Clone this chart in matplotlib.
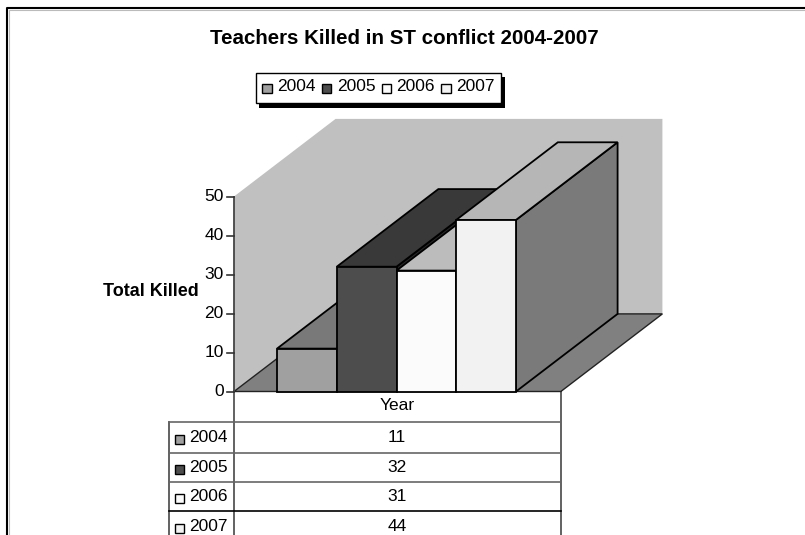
import matplotlib
matplotlib.use('Agg')
from matplotlib import pyplot as plt
from matplotlib.patches import Polygon, Rectangle

years = ['2004', '2005', '2006', '2007']
killed = [11, 32, 31, 44]
yticks = [0, 10, 20, 30, 40, 50]
front_col = ['#a0a0a0', '#4d4d4d', '#fbfbfb', '#f2f2f2']
top_col = ['#797979', '#393939', '#bcbcbc', '#b6b6b6']
side_col = ['#787878', '#262626', '#7d7d7d', '#7a7a7a']

W, H = 805, 535
plt.rcParams['font.family'] = ['Liberation Sans', 'DejaVu Sans']
fig = plt.figure(figsize=(W / 100, H / 100), dpi=100)

# overlay in pixels for the frame, table and legend
ov = fig.add_axes([0, 0, 1, 1])
ov.set_xlim(0, W)
ov.set_ylim(H, 0)
ov.axis('off')

# chart axes: x in bar widths, y in killed, depth in the same units
bar_px = 59.75
val_px = 3.9
x0_px, y0_px = 234, 391.5
ax = fig.add_axes([0, 0, 1, 1])
ax.patch.set_alpha(0)
ax.set_xlim(-x0_px / bar_px, (W - x0_px) / bar_px)
ax.set_ylim(-(H - y0_px) / val_px, y0_px / val_px)
ax.axis('off')

depth_x = 1.70
depth_y = 19.9
floor_w = 5.47
top_val = yticks[-1]
first_bar = 0.72

# walls and floor
ax.add_patch(Polygon([(0, 0), (0, top_val), (depth_x, top_val + depth_y),
                      (floor_w + depth_x, top_val + depth_y), (floor_w + depth_x, depth_y),
                      (depth_x, depth_y)], fc='#c0c0c0', ec='none', zorder=1))
ax.add_patch(Polygon([(0, 0), (floor_w, 0), (floor_w + depth_x, depth_y), (depth_x, depth_y)],
                     fc='#808080', ec='#222222', lw=1, zorder=2))

# bars, painted from left to right
for i, v in enumerate(killed):
    x = first_bar + i
    z = 3 + i
    ax.add_patch(Polygon([(x + 1, 0), (x + 1 + depth_x, depth_y), (x + 1 + depth_x, v + depth_y), (x + 1, v)],
                         fc=side_col[i], ec='black', lw=1.3, zorder=z))
    ax.add_patch(Polygon([(x, v), (x + 1, v), (x + 1 + depth_x, v + depth_y), (x + depth_x, v + depth_y)],
                         fc=top_col[i], ec='black', lw=1.3, zorder=z))
    ax.add_patch(Rectangle((x, 0), 1, v, fc=front_col[i], ec='black', lw=1.3, zorder=z))

# value axis
ax.plot([0, 0], [0, top_val], color='#444444', lw=1.3, zorder=8)
for t in yticks:
    ax.plot([-0.11, 0], [t, t], color='#333333', lw=1.2, zorder=8)
    ax.text(-0.17, t, str(t), ha='right', va='center', fontsize=12.5, color='black', zorder=8)

# table
row_y = [391, 422, 453, 482, 511]
ov.plot([234, 234], [391, H], color='#555555', lw=1.3)
ov.plot([561, 561], [391, H], color='#555555', lw=1.3)
ov.plot([169, 169], [422, H], color='#555555', lw=1.3)
ov.plot([234, 561], [391, 391], color='#222222', lw=1.2)
for k, y in enumerate(row_y[1:]):
    ov.plot([169, 561], [y, y], color='black' if k == 3 else '#666666', lw=1.2)
ov.text(397.5, 405, 'Year', ha='center', va='center', fontsize=12.5)
for i, (yr, v) in enumerate(zip(years, killed)):
    cy = (row_y[i + 1] + (row_y[i + 2] if i < 3 else 542)) / 2
    ov.add_patch(Rectangle((174.5, cy - 3), 9.5, 9.5, fc=front_col[i], ec='black', lw=1))
    ov.text(189, cy, yr, ha='left', va='center', fontsize=12.5)
    ov.text(397, cy, str(v), ha='center', va='center', fontsize=12.5)

# frame, open on the right and at the bottom
ov.plot([8.5, 8.5, W], [H, 9.5, 9.5], color='#bbbbbb', lw=0.8)
ov.plot([7, 7, W], [H, 8, 8], color='black', lw=1.5)

# title, axis label
ov.text(404, 38.5, 'Teachers Killed in ST conflict 2004-2007', ha='center', va='center',
        fontsize=14.8, fontweight='bold')
ov.text(150.5, 292, 'Total Killed', ha='center', va='center', fontsize=13, fontweight='bold')

# legend
ov.add_patch(Rectangle((259, 77), 246, 31, fc='black', ec='none'))
ov.add_patch(Rectangle((256, 73), 245, 30, fc='white', ec='black', lw=1))
for i, yr in enumerate(years):
    lx = 262 + i * 59.8
    ov.add_patch(Rectangle((lx, 83.5), 9.5, 9.5, fc=front_col[i], ec='black', lw=1))
    ov.text(lx + 15, 86.5, yr, ha='left', va='center', fontsize=12.5)

fig.savefig('out.png', dpi=100)
